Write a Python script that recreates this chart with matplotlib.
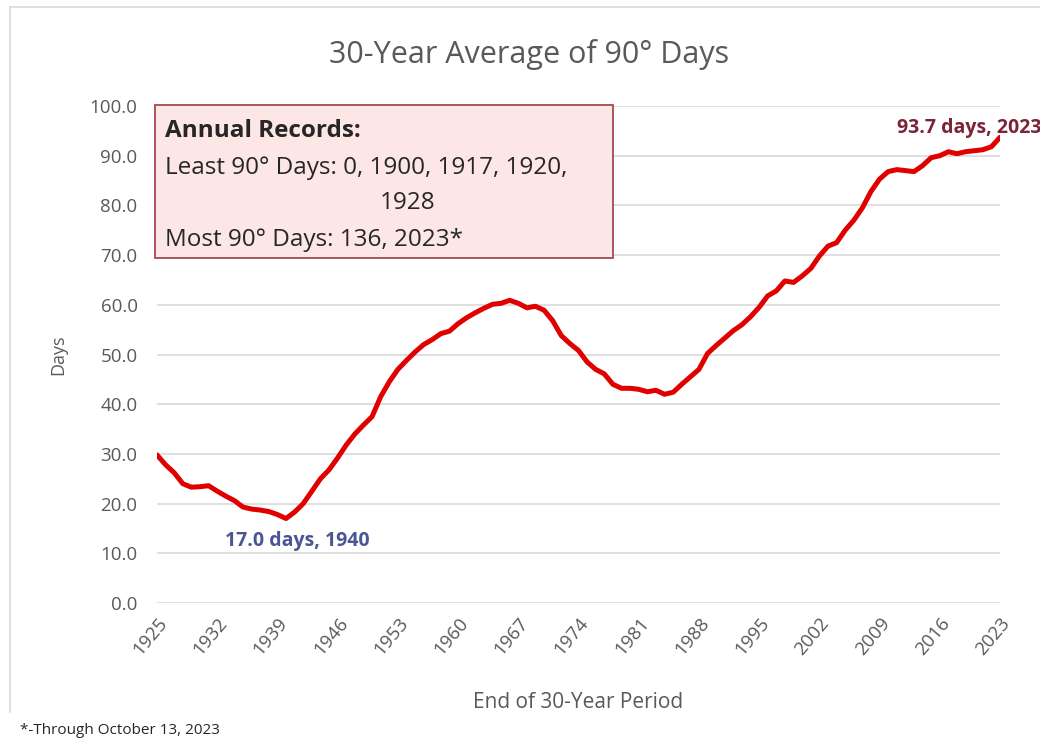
import matplotlib.pyplot as plt
from matplotlib.patches import Rectangle
from matplotlib.lines import Line2D

# 30-year averages of 90 degree days, by end year of the period
years = list(range(1925, 2024))
avg_days = [
    29.8, 27.8, 26.2, 24.0, 23.3, 23.4, 23.6, 22.5, 21.5, 20.6,   # 1925-1934
    19.3, 18.9, 18.7, 18.4, 17.8, 17.0, 18.3, 20.0, 22.5, 25.0,   # 1935-1944
    26.8, 29.2, 31.8, 34.0, 35.8, 37.5, 41.5, 44.5, 47.0, 48.8,   # 1945-1954
    50.5, 52.0, 53.0, 54.2, 54.7, 56.2, 57.4, 58.4, 59.3, 60.1,   # 1955-1964
    60.3, 60.9, 60.3, 59.4, 59.7, 58.9, 56.8, 53.8, 52.2, 50.8,   # 1965-1974
    48.5, 47.0, 46.1, 44.0, 43.2, 43.2, 43.0, 42.5, 42.8, 42.0,   # 1975-1984
    42.4, 44.0, 45.5, 47.0, 50.2, 51.8, 53.3, 54.8, 56.0, 57.6,   # 1985-1994
    59.5, 61.8, 62.8, 64.8, 64.5, 65.8, 67.3, 69.8, 71.8, 72.5,   # 1995-2004
    75.0, 77.0, 79.5, 82.8, 85.3, 86.8, 87.2, 87.0, 86.8, 88.0,   # 2005-2014
    89.6, 90.0, 90.8, 90.4, 90.8, 91.0, 91.2, 91.8, 93.7,         # 2015-2023
]
tick_years = list(range(1925, 2024, 7))
y_ticks = [0, 10, 20, 30, 40, 50, 60, 70, 80, 90, 100]

box_lines = [
    "Least 90° Days: 0, 1900, 1917, 1920,",
    "1928",
    "Most 90° Days: 136, 2023*",
]

plt.rcParams['font.family'] = ['Open Sans', 'DejaVu Sans']
grey = '#595959'

fig = plt.figure(figsize=(10.4, 7.42), dpi=100)
W, H = 1040, 742

def fx(px):
    return px / W

def fy(py):
    return 1 - py / H

# chart area border (left and top edges visible)
fig.add_artist(Line2D([fx(10), fx(10)], [fy(7), fy(712)], color='#d9d9d9', lw=1.2))
fig.add_artist(Line2D([fx(10), fx(1040)], [fy(7), fy(7)], color='#d9d9d9', lw=1.2))

ax = fig.add_axes([fx(157), fy(603), fx(1000) - fx(157), fy(106) - fy(603)])
ax.plot(years, avg_days, color='#e00000', lw=3.6, solid_capstyle='round', zorder=3)

ax.set_xlim(years[0], years[-1])
ax.set_ylim(0, 100)
ax.set_yticks(y_ticks)
ax.set_yticklabels([f"{v:.1f}" for v in y_ticks])
ax.set_xticks(tick_years)
ax.set_xticklabels([str(y) for y in tick_years], rotation=50, ha='right',
                   rotation_mode='anchor')
ax.grid(axis='y', color='#d9d9d9', lw=1.2)
ax.set_axisbelow(True)
for s in ax.spines.values():
    s.set_visible(False)
ax.tick_params(length=0, labelsize=13.5, colors=grey)
ax.tick_params(axis='y', pad=14)
ax.tick_params(axis='x', pad=8)

ax.set_ylabel("Days", fontsize=13, color=grey, labelpad=16)
ax.set_xlabel("End of 30-Year Period", fontsize=15, color=grey, labelpad=24)

fig.text(fx(529), fy(54), "30-Year Average of 90° Days", ha='center', va='center',
         fontsize=22, color=grey)

# min and latest labels
i_min = avg_days.index(min(avg_days))
ax.annotate(f"{avg_days[i_min]:.1f} days, {years[i_min]}", (years[i_min], avg_days[i_min]),
            xytext=(8, -16), textcoords='offset points', ha='center', va='center',
            fontsize=14, fontweight='bold', color='#4b5593')
ax.annotate(f"{avg_days[-1]:.1f} days, {years[-1]}", (years[-1], avg_days[-1]),
            xytext=(-74, 6.5), textcoords='offset points', ha='left', va='center',
            fontsize=14, fontweight='bold', color='#7b2338', annotation_clip=False)

# records box
fig.add_artist(Rectangle((fx(155), fy(258)), fx(613) - fx(155), fy(105) - fy(258),
                         facecolor='#fce6e6', edgecolor='#a34a4f', lw=1.3, zorder=4))
fig.text(fx(165), fy(131), "Annual Records:", ha='left', va='center',
         fontsize=17.5, fontweight='bold', color='#262626', zorder=5)
fig.text(fx(165), fy(168), box_lines[0], ha='left', va='center',
         fontsize=17.5, color='#262626', zorder=5)
fig.text(fx(408), fy(203), box_lines[1], ha='center', va='center',
         fontsize=17.5, color='#262626', zorder=5)
fig.text(fx(165), fy(240), box_lines[2], ha='left', va='center',
         fontsize=17.5, color='#262626', zorder=5)

fig.text(fx(20), fy(731), "*-Through October 13, 2023", ha='left', va='center',
         fontsize=11, color='#262626')

fig.savefig("out.png", dpi=100)
